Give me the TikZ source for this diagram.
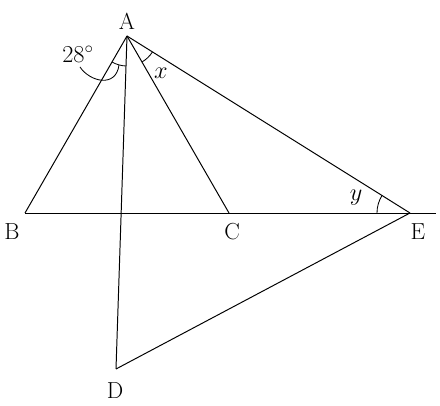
\documentclass[tikz,border=0pt]{standalone}
\usetikzlibrary{angles}

\begin{document}
\begin{tikzpicture}
[x=0.025cm,y=-0.025cm,%
  lineDecorate/.style={-,line width=0.7pt},%
  labelDecorate/.style={font=\fontsize{16.5}{19}\selectfont,inner sep=0pt},%
  angleDecorate/.style={draw,line width=0.6pt,angle radius=0.75cm}]
\useasboundingbox (0,0) rectangle (440,406);
%% points
\foreach \nodename/\x/\y in {
  A/127/36, B/25/213, C/229/213, D/116/369, E/410/213, F/436/213}
{
  \coordinate (\nodename) at (\x,\y);
}
%% vertex labels
\foreach \nodename/\x/\y in {
  A/127/21, B/12/232, C/232/232, D/115/391, E/418/232}
{
  \node (l\nodename) at (\x,\y) [labelDecorate] {\nodename};
}
\node (ang) at (78,54) [labelDecorate] {$28^\circ$};
\node (lx) at (161,73) [labelDecorate] {$x$};
\node (ly) at (356,198) [labelDecorate] {$y$};
%% segments
\path
\foreach \startnode/\endnode in {
  A/B, A/C, A/D, A/E, B/F, D/E}
{
  (\startnode) edge[lineDecorate] (\endnode)
};
%% angle marks
\pic [angleDecorate] {angle = B--A--D};
\pic [angleDecorate] {angle = C--A--E};
\pic [angleDecorate,angle radius=0.825cm] {angle = A--E--B};
\coordinate (tail) at (80,67);
\coordinate (tip) at (119,65);
\draw[line width=0.6pt] (tail) .. controls (90,82) and (116,88) .. (tip);
\end{tikzpicture}
\end{document}
